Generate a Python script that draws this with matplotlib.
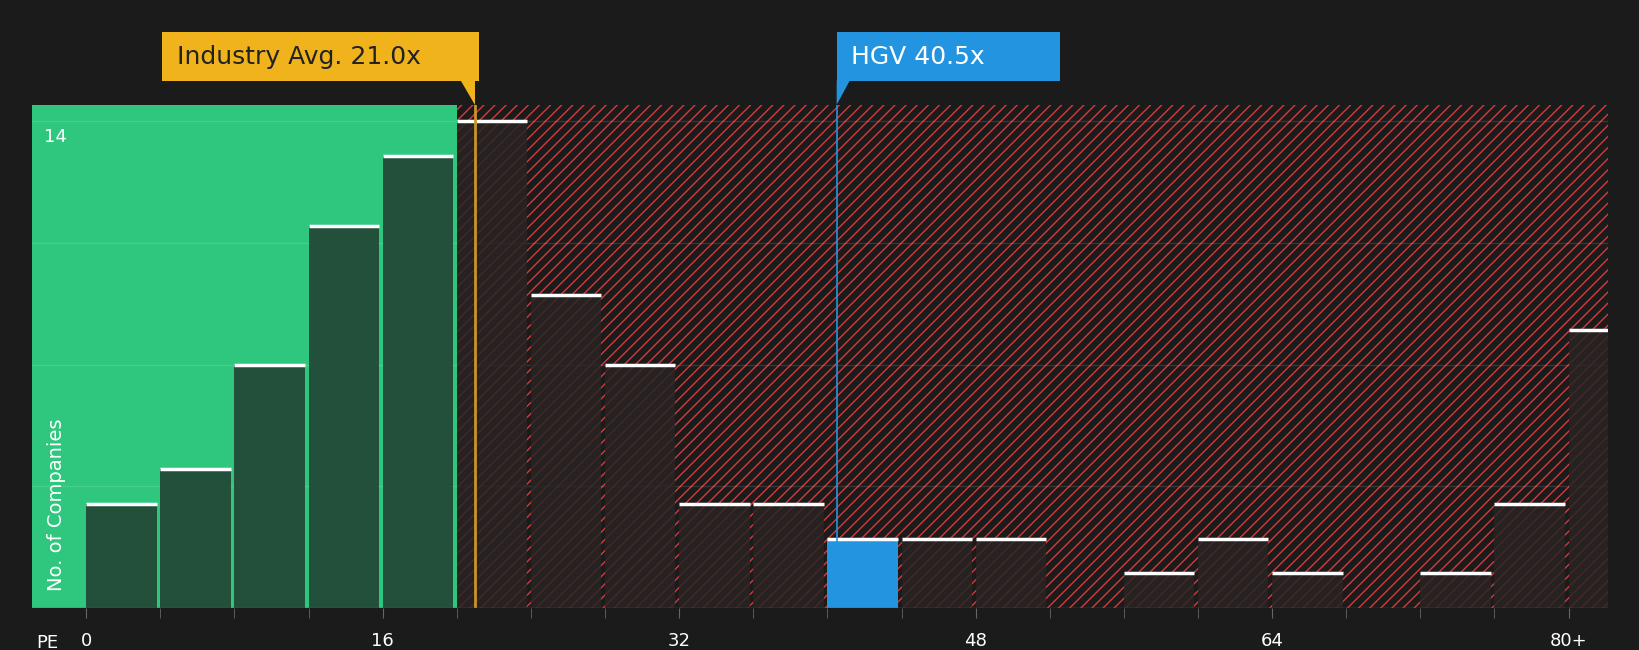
import matplotlib
matplotlib.use("Agg")
import matplotlib.pyplot as plt
from matplotlib.patches import Rectangle, Polygon
import numpy as np

bin_starts = [0,4,8,12,16,20,24,28,32,36,40,44,48,52,56,60,64,68,72,76,80]
counts =     [3,4,7,11,13,14,9,7,3,3,2,2,2,0,1,2,1,0,1,3,8]
tick_vals = [0,16,32,48,64,80]
tick_labels = ["0","16","32","48","64","80+"]
minor_ticks = [4,8,12,20,24,28,36,40,44,52,56,60,68,72,76]
industry_avg = 21.0
company_pe = 40.5
company = "HGV"

W, H = 1640, 650
fig = plt.figure(figsize=(W/100, H/100), dpi=100)
fig.patch.set_facecolor("#1b1b1b")
ax = fig.add_axes([0.0198, 0.0644, 0.9604, 0.7746])
ax.set_facecolor("#1b1b1b")
xmin, xmax = -2.9, 82.1
ymin, ymax = 0, 14.48
ax.set_xlim(xmin, xmax); ax.set_ylim(ymin, ymax)

ax.add_patch(Rectangle((xmin, 0), 20 - xmin, ymax, facecolor="#2ec77d", edgecolor="none", zorder=0))
ax.add_patch(Rectangle((20, 0), xmax - 20, ymax, facecolor="#1b1b1b", edgecolor="#d83a3a",
                       hatch="///", linewidth=0, zorder=0))
for g in [3.5, 7, 10.5, 14]:
    ax.axhline(g, color="white", alpha=0.12, lw=1, zorder=1)

for s, c in zip(bin_starts, counts):
    w = 3.8 if s < 80 else xmax - s
    if c == 0:
        continue
    if s <= company_pe < s + 4:
        fc, alpha = "#2394e0", 1.0
    elif s < 20:
        fc, alpha = "#234a38", 0.95
    else:
        fc, alpha = "#2a2424", 0.85
    ax.add_patch(Rectangle((s, 0), w, c, facecolor=fc, alpha=alpha, edgecolor="none", zorder=2))
    ax.plot([s, s + w], [c, c], color="white", lw=2.5, zorder=3, solid_capstyle="butt")

ax.axvline(industry_avg, color="#c8952a", lw=2, zorder=4)
ax.axvline(company_pe, color="#2394e0", lw=1.2, zorder=4)

for sp in ax.spines.values():
    sp.set_visible(False)
ax.axhline(0, color="#555555", lw=1, zorder=5)
ax.set_yticks([])
ax.set_xticks(tick_vals)
ax.set_xticklabels(tick_labels, color="white", fontsize=13)
ax.set_xticks(minor_ticks, minor=True)
ax.tick_params(axis="x", which="both", length=7, color="#666666", pad=10)
ax.text(xmin + 0.2, -1.0, "PE", color="white", fontsize=13, ha="left", va="center", clip_on=False)
ax.text(-2.3, 13.8, "14", color="white", fontsize=13, ha="left", va="top")
ax.text(-1.6, 0.5, "No. of Companies", color="white", fontsize=14, rotation=90, ha="center", va="bottom")

def xf(v):
    return 0.0198 + 0.9604 * (v - xmin) / (xmax - xmin)
def label(x0, x1, text, fc, tc, ptr_x, ptr_from):
    y0, y1 = 1 - 77/621, 1 - 31/621
    fig.patches.append(Rectangle((x0, y0), x1 - x0, y1 - y0, transform=fig.transFigure,
                                 facecolor=fc, edgecolor="none"))
    fig.patches.append(Polygon([(ptr_from[0], y0), (ptr_from[1], y0), (ptr_x, 1 - 100/621)],
                               closed=True, transform=fig.transFigure, facecolor=fc, edgecolor="none"))
    fig.text(x0 + 0.009, (y0 + y1) / 2, text, color=tc, fontsize=18, ha="left", va="center")

ix = xf(industry_avg)
label(155/1568, 458/1568, f"Industry Avg. {industry_avg:.1f}x", "#f0b31c", "#222222", ix, (ix - 0.009, ix))
cx = xf(company_pe)
label(cx, 1013/1568, f"{company} {company_pe:.1f}x", "#2394e0", "white", cx, (cx, cx + 0.008))

fig.savefig("out.png", dpi=100, facecolor=fig.get_facecolor())
